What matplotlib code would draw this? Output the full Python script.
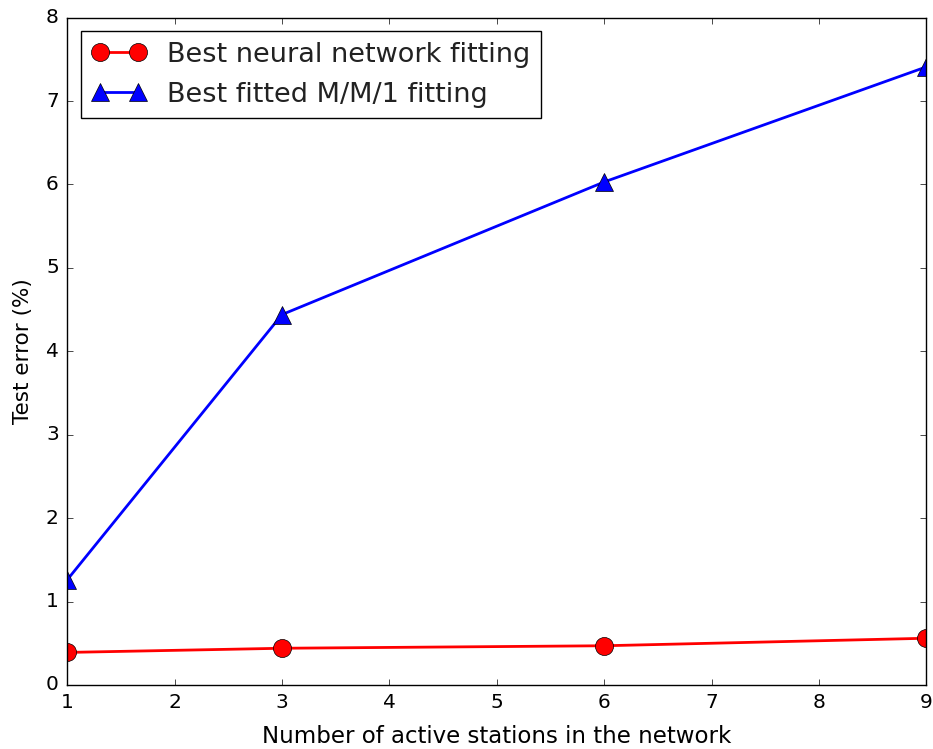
import matplotlib
matplotlib.use('Agg')
import matplotlib.pyplot as plt

# data
stations = [1, 3, 6, 9]
nn_error = [0.39, 0.44, 0.47, 0.56]
mm1_error = [1.26, 4.44, 6.03, 7.41]

plt.style.use('classic')
plt.rcParams['font.family'] = 'DejaVu Sans'

fig = plt.figure(figsize=(9.33, 7.49), dpi=100, facecolor='white')
ax = fig.add_axes([0.072, 0.0855, 0.921, 0.891])

ax.plot(stations, nn_error, 'r-o', lw=2, ms=13, label='Best neural network fitting')
ax.plot(stations, mm1_error, 'b-^', lw=2, ms=13, label='Best fitted M/M/1 fitting')

ax.set_xlim(1, 9)
ax.set_ylim(0, 8)
ax.tick_params(labelsize=14.5, pad=6)
ax.set_xlabel('Number of active stations in the network', fontsize=16.5, labelpad=9)
ax.set_ylabel('Test error (%)', fontsize=15.5, labelpad=9)
leg = ax.legend(loc='upper left', fontsize=19.5, numpoints=2, handlelength=2.0,
                borderaxespad=0.5)
for t in leg.get_texts():
    t.set_color('#222222')

plt.savefig('out.png', dpi=100, facecolor='white')
